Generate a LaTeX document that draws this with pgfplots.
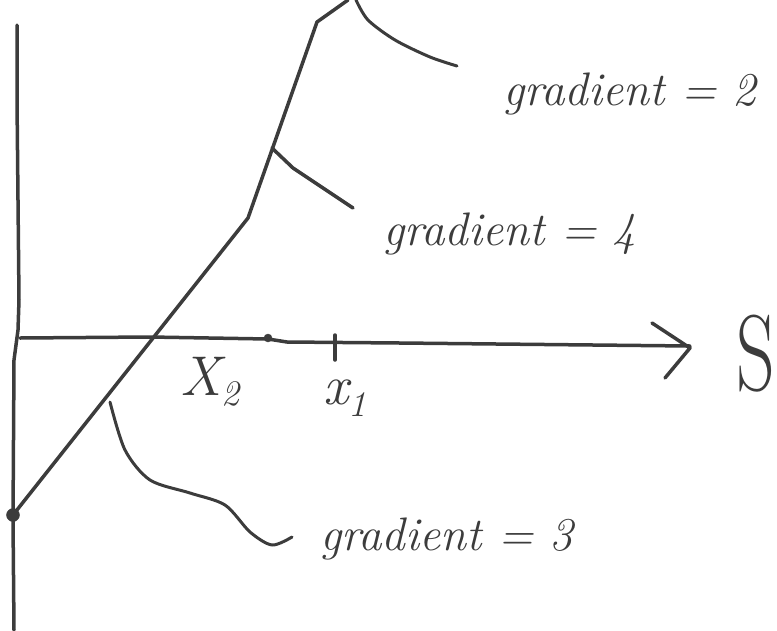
\documentclass[border=0pt]{standalone}
\usepackage{pgfplots}
\pgfplotsset{compat=1.18}
\definecolor{ink}{HTML}{3C3C3C}
\begin{document}
\begin{tikzpicture}[
  stroke/.style={ink, line width=3.5pt, line cap=round, line join=round, mark=none},
  lbl/.style={ink, font=\fontsize{47}{52}\selectfont\itshape, anchor=base west, inner sep=0pt},
]
\begin{axis}[
  scale only axis, width=777pt, height=630pt,
  xmin=0, xmax=777, ymin=0, ymax=630, y dir=reverse,
  hide axis, clip=false,
]
% vertical axis
\addplot[stroke] coordinates {(17,25) (17,100) (19,300) (18,330) (14,360) (13,520) (14,630)};
% horizontal axis with open arrowhead
\addplot[stroke] coordinates {(20,338) (150,337) (268,339) (287,342) (400,343) (690,346)};
\addplot[stroke] coordinates {(652,323) (690,348) (665,378)};
% piecewise linear payoff
\addplot[stroke] coordinates {(13,515) (248,218) (317,22) (348,0)};
\addplot[only marks, mark=*, mark size=6.5pt, ink] coordinates {(13,515)};
% tick marks at x2 and x1
\addplot[only marks, mark=*, mark size=4pt, ink] coordinates {(268,338)};
\addplot[stroke] coordinates {(335,335) (335,360)};
% leader curves
\addplot[stroke, smooth, line width=3pt] coordinates {(356,0) (368,20) (395,40) (430,57) (457,66)};
\addplot[stroke] coordinates {(272,148) (293,168) (353,208)};
\addplot[stroke, smooth, line width=3pt] coordinates {(110,402) (125,450) (150,480) (190,493) (225,505) (250,532) (272,545) (292,537)};
% labels
\node[lbl] at (503,105) {gradient = 2};
\node[lbl] at (383,245) {gradient = 4};
\node[lbl] at (320,550) {gradient = 3};
\node[ink, font=\fontsize{56}{60}\selectfont\itshape] at (210,382) {X\raisebox{-10pt}{\fontsize{36}{36}\selectfont 2}};
\node[ink, font=\fontsize{56}{60}\selectfont\itshape] at (345,398) {x\raisebox{-12pt}{\fontsize{36}{36}\selectfont 1}};
\node[ink, font=\fontsize{108}{110}\selectfont, inner sep=0pt] at (756,354) {\scalebox{0.7}[1]{S}};
\end{axis}
\pgfresetboundingbox
\path[use as bounding box] (current axis.south west) rectangle (current axis.north east);
\end{tikzpicture}
\end{document}
